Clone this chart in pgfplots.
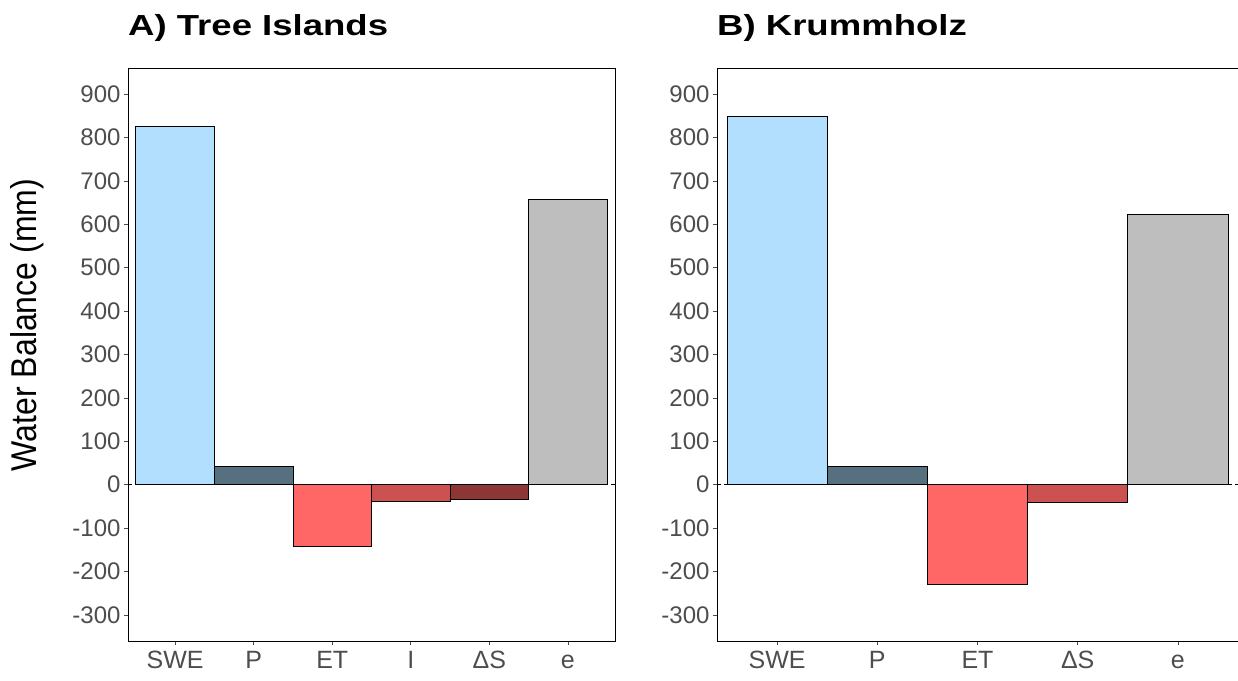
\documentclass[border=0pt]{standalone}
\usepackage{fontspec}
\setmainfont{Liberation Sans}
\usepackage{pgfplots}
\pgfplotsset{compat=1.18}
\definecolor{cswe}{HTML}{B3DFFF}
\definecolor{cp}{HTML}{56707F}
\definecolor{cet}{HTML}{FF6666}
\definecolor{ci}{HTML}{CC5252}
\definecolor{cds}{HTML}{8E3636}
\definecolor{ce}{HTML}{BEBEBE}
\definecolor{tickgray}{HTML}{4D4D4D}
\pgfplotsset{
  wb/.style={
    scale only axis,
    height=573pt,
    ymin=-360, ymax=960,
    ytick={-300,-200,-100,0,100,200,300,400,500,600,700,800,900},
    /pgf/number format/assume math mode=true,
    /pgf/number format/1000 sep={},
    tick align=outside,
    major tick length=4pt,
    tick style={black!70, line width=0.6pt},
    axis line style={black, line width=0.9pt},
    xtick pos=bottom, ytick pos=left,
    ticklabel style={font=\fontsize{24}{28}\selectfont, text=tickgray},
    xticklabel style={font=\fontsize{25}{29}\selectfont, text height=18pt, text depth=0pt, yshift=-2pt},
    clip=false,
  },
  bb/.style={ybar, bar width=1, bar shift=0pt, draw=black, line width=0.8pt, fill=#1},
}
\begin{document}
\begin{tikzpicture}
\useasboundingbox (0,0) rectangle (1238pt,680pt);
% Panel A
\begin{axis}[wb, at={(128pt,39pt)}, anchor=south west, width=487pt,
  xmin=0.4, xmax=6.6, xtick={1,2,3,4,5,6},
  xticklabels={SWE,P,ET,I,ΔS,e}]
\addplot[bb=cswe] coordinates {(1,826)};
\addplot[bb=cp] coordinates {(2,43)};
\addplot[bb=cet] coordinates {(3,-141)};
\addplot[bb=ci] coordinates {(4,-38)};
\addplot[bb=cds] coordinates {(5,-33)};
\addplot[bb=ce] coordinates {(6,658)};
\addplot[black, line width=0.7pt, dash pattern=on 4pt off 3pt] coordinates {(0.4,0) (6.6,0)};
\end{axis}
% Panel B
\begin{axis}[wb, at={(717pt,39pt)}, anchor=south west, width=521pt,
  xmin=0.4, xmax=5.6, xtick={1,2,3,4,5},
  xticklabels={SWE,P,ET,ΔS,e}]
\addplot[bb=cswe] coordinates {(1,849)};
\addplot[bb=cp] coordinates {(2,43)};
\addplot[bb=cet] coordinates {(3,-229)};
\addplot[bb=ci] coordinates {(4,-40)};
\addplot[bb=ce] coordinates {(5,623)};
\addplot[black, line width=0.7pt, dash pattern=on 4pt off 3pt] coordinates {(0.4,0) (5.6,0)};
\end{axis}
% Titles
\node[anchor=base west, inner sep=0pt] at (128pt,644pt) {\scalebox{1.26}[1]{\fontsize{29}{33}\selectfont\bfseries A) Tree Islands}};
\node[anchor=base west, inner sep=0pt] at (717pt,644pt) {\scalebox{1.26}[1]{\fontsize{29}{33}\selectfont\bfseries B) Krummholz}};
% Y label
\node[rotate=90, inner sep=0pt] at (27pt,355pt) {\scalebox{1}[1.12]{\fontsize{32}{36}\selectfont Water Balance (mm)}};
\end{tikzpicture}
\end{document}
